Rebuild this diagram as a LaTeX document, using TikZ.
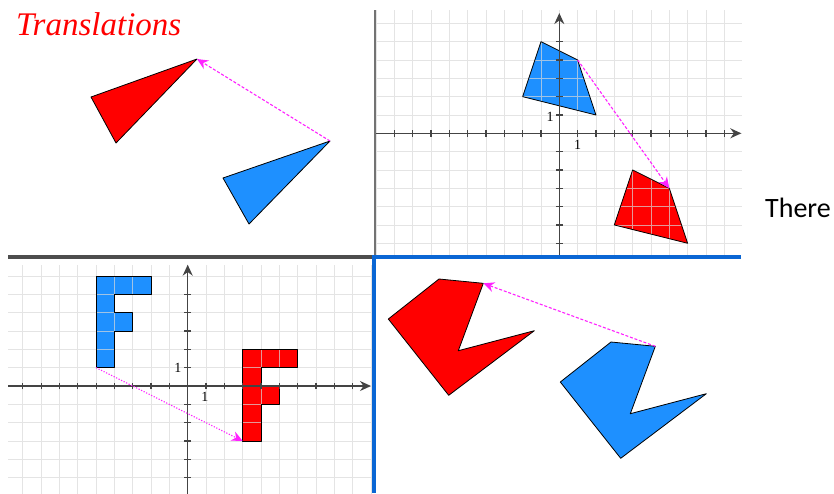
\documentclass[tikz,border=0pt]{standalone}
\usepackage{fontspec}
\setmainfont{Liberation Serif}
\newfontfamily\titlefont{Liberation Serif Italic}
\newfontfamily\slidefont{Carlito}
\usetikzlibrary{arrows.meta,positioning,calc}
\definecolor{imgblue}{HTML}{1E90FF}
\definecolor{imgred}{HTML}{FF0000}
\definecolor{frameblue}{HTML}{0A66D4}
\definecolor{axisgray}{HTML}{444444}
\definecolor{rulegray}{HTML}{4D4D4D}
\definecolor{vecpink}{HTML}{FF22FF}

\begin{document}
\begin{tikzpicture}[
  x=1pt, y=-1pt,
  outl/.style    = {draw=black, line width=0.8pt, line join=round},
  preimg/.style  = {outl, fill=imgblue},
  img/.style     = {outl, fill=imgred},
  vec/.style     = {-{Stealth[length=11pt,width=10pt]}, vecpink, line width=1.1pt,
                    dash pattern=on 3pt off 1.8pt},
  dotvec/.style  = {vec, dash pattern=on 1.2pt off 1.6pt},
  gridln/.style  = {line width=0.8pt, draw=black!15, opacity=0.7, step=1},
  axis/.style    = {line width=1.4pt, axisgray, -{Stealth[length=11pt,width=10pt]}},
  tickln/.style  = {line width=1.1pt, axisgray},
  unitlbl/.style = {font=\fontsize{14}{14}\selectfont, inner sep=0pt},
]
\useasboundingbox (0,0) rectangle (834,493);

% top left: triangles
\node[text=imgred, font=\titlefont\fontsize{33}{33}\selectfont, anchor=base west, inner sep=0pt]
     (title) at (16,35) {Translations};
\coordinate (rA) at (91,97);   \coordinate (rB) at (197,59);  \coordinate (rC) at (116,143);
\coordinate (bA) at (223,178); \coordinate (bB) at (330,141); \coordinate (bC) at (249,224);
\draw[img]    (rA) -- (rB) -- (rC) -- cycle;
\draw[preimg] (bA) -- (bB) -- (bC) -- cycle;
\draw[vec] (bB) -- (rB);

% top right: quadrilaterals on a grid
\begin{scope}[shift={(559.3,133.3)}, x=18.33pt, y=18.33pt]
  \coordinate (qb1) at (-1,5); \coordinate (qb2) at (1,4);
  \coordinate (qb3) at (2,1);  \coordinate (qb4) at (-2,2);
  \coordinate (qr1) at (4,-2); \coordinate (qr2) at (6,-3);
  \coordinate (qr3) at (7,-6); \coordinate (qr4) at (3,-5);
  \def\quadb{(qb1) -- (qb2) -- (qb3) -- (qb4) -- cycle}
  \def\quadr{(qr1) -- (qr2) -- (qr3) -- (qr4) -- cycle}
  \fill[imgblue] \quadb;
  \fill[imgred]  \quadr;
  \draw[gridln] (-10,-6.7) grid (9.97,6.75);
  \draw[outl] \quadb;
  \draw[outl] \quadr;
  \draw[axis] (-10,0) -- (9.93,0);
  \draw[axis] (0,-6.7) -- (0,6.56);
  \foreach \i in {-9,...,-1,1,2,...,9} \draw[tickln] (\i,-0.19) -- (\i,0.19);
  \foreach \j in {-6,...,-1,1,2,...,5} \draw[tickln] (-0.19,\j) -- (0.19,\j);
  \node[unitlbl] (qx1) at (1,-0.64) {1};
  \node[unitlbl] (qy1) at (-0.5,0.9) {1};
  \draw[vec] (qb2) -- (qr2);
\end{scope}
\draw[line width=2pt, black!55] (375,10) -- (375,257);

% bottom left: F shapes on a grid
\begin{scope}[shift={(187.7,386)}, x=18.33pt, y=18.33pt]
  \def\fblue{(-5,1) -- (-5,6) -- (-2,6) -- (-2,5) -- (-4,5) -- (-4,4) -- (-3,4)
             -- (-3,3) -- (-4,3) -- (-4,1) -- cycle}
  \def\fred{(3,-3) -- (3,2) -- (6,2) -- (6,1) -- (4,1) -- (4,0) -- (5,0)
            -- (5,-1) -- (4,-1) -- (4,-3) -- cycle}
  \coordinate (fb) at (-5,1);
  \coordinate (fr) at (3,-3);
  \fill[imgblue] \fblue;
  \fill[imgred]  \fred;
  \draw[gridln] (-9.8,-5.9) grid (10,6.6);
  \draw[outl] \fblue;
  \draw[outl] \fred;
  \draw[axis] (-9.8,0) -- (10,0);
  \draw[axis] (0,-5.9) -- (0,6.62);
  \foreach \i in {-9,...,-1,1,2,...,9} \draw[tickln] (\i,-0.19) -- (\i,0.19);
  \foreach \j in {-5,...,-1,1,2,...,5} \draw[tickln] (-0.19,\j) -- (0.19,\j);
  \node[unitlbl] (fx1) at (0.94,-0.6) {1};
  \node[unitlbl] (fy1) at (-0.53,0.98) {1};
  \draw[dotvec] (fb) -- (fr);
\end{scope}

% bottom right: arrow-head polygons
\coordinate (pr1) at (439,279);   \coordinate (pr2) at (483.3,283.3);
\coordinate (pr3) at (458.3,350.7); \coordinate (pr4) at (534.3,330.7);
\coordinate (pr5) at (448.7,395.3); \coordinate (pr6) at (388.3,319);
\coordinate (pb1) at (611,342);   \coordinate (pb2) at (655.3,346.3);
\coordinate (pb3) at (630.3,413.7); \coordinate (pb4) at (706.3,393.7);
\coordinate (pb5) at (620.7,458.3); \coordinate (pb6) at (560.3,382);
\draw[img]    (pr1) -- (pr2) -- (pr3) -- (pr4) -- (pr5) -- (pr6) -- cycle;
\draw[preimg] (pb1) -- (pb2) -- (pb3) -- (pb4) -- (pb5) -- (pb6) -- cycle;
\draw[vec] (pb2) -- (pr2);

% panel rules
\draw[line width=4pt, rulegray] (8,257) -- (373,257);
\draw[line width=3.5pt, frameblue] (741,257) -- (374,257) -- (374,493);

\node[font=\slidefont\fontsize{28}{28}\selectfont, anchor=base west, inner sep=0pt]
     (there) at (765,217) {There};
\end{tikzpicture}
\end{document}
